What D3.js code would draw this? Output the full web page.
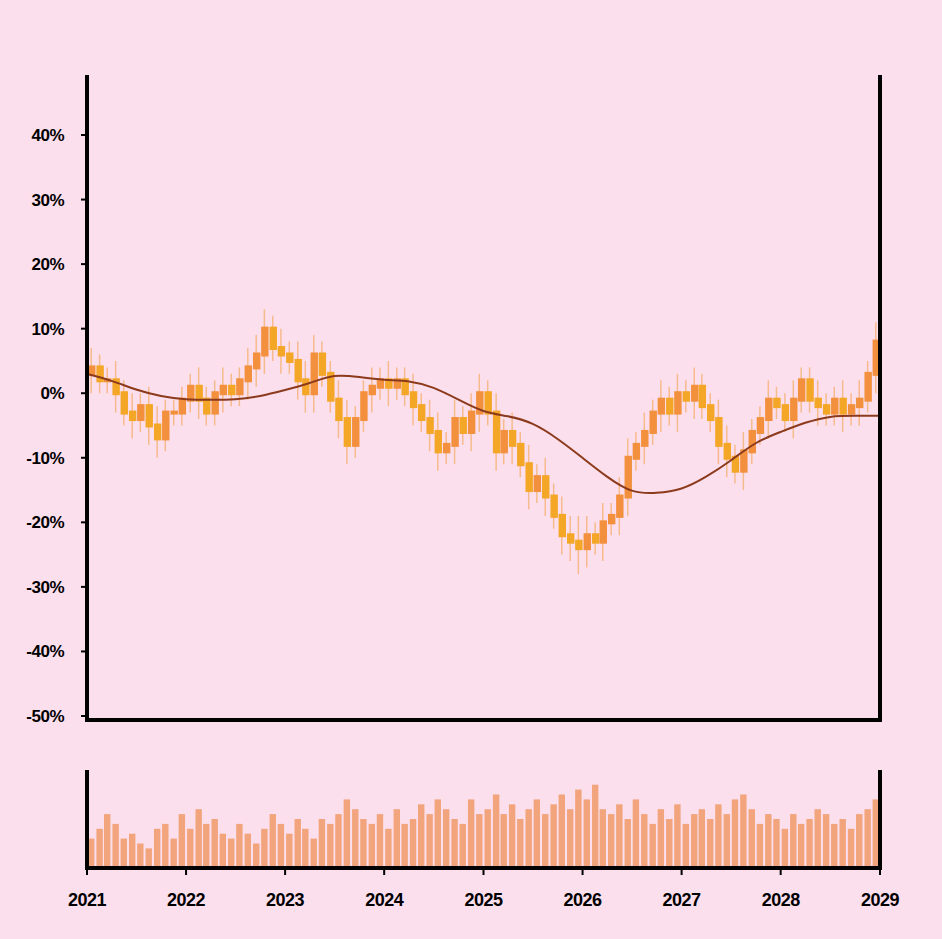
<!DOCTYPE html>
<html>
<head>
<meta charset="utf-8">
<script src="https://cdn.jsdelivr.net/npm/d3@7"></script>
<style>
  body { margin: 0; background: #fcdfed; }
  svg { font-family: "Liberation Sans", Arial, sans-serif; }
</style>
</head>
<body>
<svg id="chart" width="942" height="939"></svg>
<script>
// monthly closes in %, Jan 2021 .. Dec 2028
const startValue = 3;
const closes = [
  4, 2, 2, 0, -3, -4, -2, -5, -7, -3, -3, -1,
  1, -1, -3, 0, 1, 0, 2, 4, 6, 10, 7, 6,
  5, 2, 0, 6, 3, -1, -4, -8, -4, 0, 1, 2,
  1, 2, 0, -2, -4, -6, -9, -8, -4, -6, -3, 0,
  -3, -9, -6, -8, -11, -15, -13, -16, -19, -22, -23, -24,
  -22, -23, -20, -19, -16, -10, -8, -6, -3, -1, -3, 0,
  -1, 1, -2, -4, -8, -10, -12, -9, -6, -4, -1, -2,
  -4, -1, 2, -1, -2, -3, -1, -3, -2, -1, 3, 8
];
// wick extension beyond the body, in %
const spreads = [
  3, 2, 2, 3, 2, 3, 2, 3, 3, 2, 2, 2,
  2, 3, 2, 2, 3, 2, 2, 3, 3, 3, 2, 3,
  2, 3, 3, 3, 2, 2, 3, 3, 2, 2, 3, 2,
  3, 2, 2, 3, 2, 3, 3, 2, 3, 2, 3, 3,
  2, 3, 2, 3, 2, 3, 2, 3, 2, 3, 3, 4,
  3, 2, 3, 2, 3, 3, 2, 3, 2, 3, 2, 3,
  2, 3, 2, 2, 3, 3, 2, 3, 2, 2, 3, 2,
  2, 3, 2, 2, 3, 2, 2, 3, 2, 3, 2, 3
];
const volumes = [
  30, 40, 55, 45, 30, 35, 25, 20, 40, 45, 30, 55,
  40, 60, 45, 50, 35, 30, 45, 35, 25, 40, 55, 45,
  35, 50, 40, 30, 50, 45, 55, 70, 60, 50, 45, 55,
  40, 60, 45, 50, 65, 55, 70, 60, 50, 45, 70, 55,
  60, 75, 55, 65, 50, 60, 70, 55, 65, 75, 60, 80,
  70, 85, 60, 55, 65, 50, 70, 55, 45, 60, 50, 65,
  45, 55, 60, 50, 65, 55, 70, 75, 60, 45, 55, 50,
  40, 55, 45, 50, 60, 55, 45, 50, 40, 55, 60, 70
];
// smoothed trend, quarterly (Jan 2021 .. Jan 2029)
const trend = [
  3, 2, 0.5, -0.5, -1, -1, -1, -0.5, 0.5, 1.5, 3, 2.5, 2, 2, 1, -1,
  -3, -3.5, -4.5, -7, -10, -13, -15.5, -15.5, -15, -13, -10.5, -7.5, -6, -4.5, -3.5, -3.5, -3.5
];
const yTicks = [40, 30, 20, 10, 0, -10, -20, -30, -40, -50];
const years = [2021, 2022, 2023, 2024, 2025, 2026, 2027, 2028, 2029];

const svg = d3.select("#chart");
const mLeft = 87, mRight = 880, mTop = 75, mBottom = 720;
const vTop = 770, vBottom = 868;

const x = d3.scaleTime().domain([new Date(2021, 0, 1), new Date(2029, 0, 1)]).range([mLeft, mRight]);
const y = d3.scaleLinear().domain([-50, 40]).range([716, 135]);

const candles = closes.map((c, i) => {
  const o = i === 0 ? startValue : closes[i - 1];
  return { date: new Date(2021, i, 1), open: o, close: c,
    high: Math.max(o, c) + spreads[i], low: Math.min(o, c) - spreads[i] };
});
const bw = x(new Date(2021, 1, 1)) - x(new Date(2021, 0, 1));

const g = svg.append("g");
g.selectAll("line.wick").data(candles).join("line")
  .attr("x1", d => x(d.date) + bw / 2).attr("x2", d => x(d.date) + bw / 2)
  .attr("y1", d => y(d.high)).attr("y2", d => y(d.low))
  .attr("stroke", "#f6bb8c").attr("stroke-width", 1.5);
g.selectAll("rect.body").data(candles).join("rect")
  .attr("x", d => x(d.date) + 1).attr("width", bw - 1)
  .attr("y", d => y(Math.max(d.open, d.close)) - 2)
  .attr("height", d => Math.abs(y(d.open) - y(d.close)) + 4)
  .attr("fill", d => d.close >= d.open ? "#f2903e" : "#f4a627");

const trendData = trend.map((v, i) => ({ date: new Date(2021, i * 3, 1), v }));
svg.append("path").datum(trendData)
  .attr("fill", "none").attr("stroke", "#8b3a1c").attr("stroke-width", 2)
  .attr("d", d3.line().x(d => x(d.date)).y(d => y(d.v)).curve(d3.curveBasis));

// axes frame
svg.append("line").attr("x1", mLeft).attr("x2", mLeft).attr("y1", mTop).attr("y2", mBottom + 2)
  .attr("stroke", "#000").attr("stroke-width", 4);
svg.append("line").attr("x1", mRight).attr("x2", mRight).attr("y1", mTop).attr("y2", mBottom + 2)
  .attr("stroke", "#000").attr("stroke-width", 4);
svg.append("line").attr("x1", mLeft - 2).attr("x2", mRight + 2).attr("y1", mBottom).attr("y2", mBottom)
  .attr("stroke", "#000").attr("stroke-width", 4);

svg.selectAll("text.yt").data(yTicks).join("text")
  .attr("x", 64).attr("y", d => y(d)).attr("dy", "0.35em")
  .attr("text-anchor", "end").attr("font-size", 17).attr("font-weight", "bold")
  .attr("letter-spacing", "-0.5").text(d => d + "%");
svg.selectAll("line.yt").data(yTicks).join("line")
  .attr("x1", mLeft - 6).attr("x2", mLeft).attr("y1", d => y(d)).attr("y2", d => y(d))
  .attr("stroke", "#000").attr("stroke-width", 2);

// volume panel
const yv = d3.scaleLinear().domain([0, 100]).range([vBottom, vTop]);
svg.selectAll("rect.vol").data(volumes).join("rect")
  .attr("x", (d, i) => x(new Date(2021, i, 1)) + 1)
  .attr("width", bw - 2)
  .attr("y", d => yv(d)).attr("height", d => vBottom - yv(d))
  .attr("fill", "#f2a57c");
svg.append("line").attr("x1", mLeft).attr("x2", mLeft).attr("y1", vTop).attr("y2", vBottom + 2)
  .attr("stroke", "#000").attr("stroke-width", 4);
svg.append("line").attr("x1", mRight).attr("x2", mRight).attr("y1", vTop).attr("y2", vBottom + 2)
  .attr("stroke", "#000").attr("stroke-width", 4);
svg.append("line").attr("x1", mLeft - 2).attr("x2", mRight + 2).attr("y1", vBottom).attr("y2", vBottom)
  .attr("stroke", "#000").attr("stroke-width", 4);
svg.selectAll("line.xt").data(years).join("line")
  .attr("x1", d => x(new Date(d, 0, 1))).attr("x2", d => x(new Date(d, 0, 1)))
  .attr("y1", vBottom).attr("y2", vBottom + 7).attr("stroke", "#000").attr("stroke-width", 2);
svg.selectAll("text.xt").data(years).join("text")
  .attr("x", d => x(new Date(d, 0, 1))).attr("y", 906)
  .attr("text-anchor", "middle").attr("font-size", 18).attr("font-weight", "bold")
  .attr("letter-spacing", "-0.5").text(d => d);
</script>
</body>
</html>
